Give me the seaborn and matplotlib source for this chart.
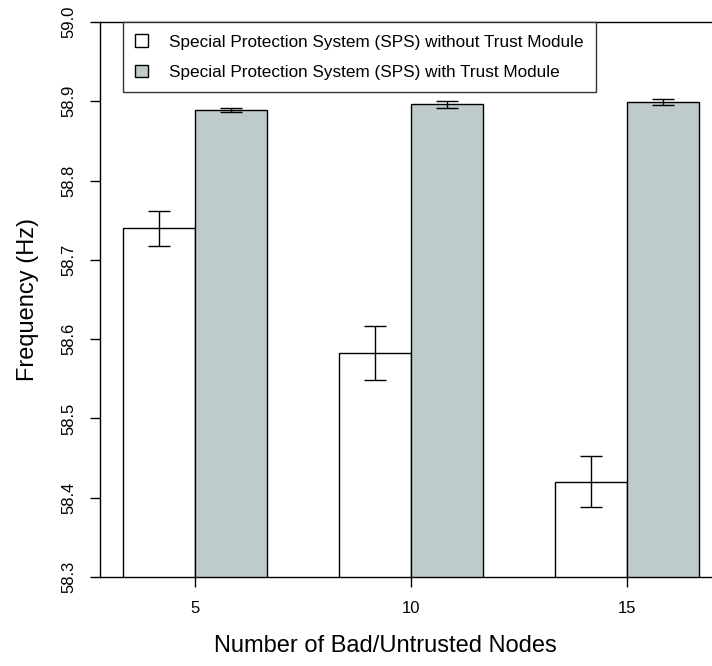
import pandas as pd
import matplotlib.pyplot as plt
import seaborn as sns
from matplotlib.patches import Patch

# values
nodes = ["5", "10", "15"]
series = ["Special Protection System (SPS) without Trust Module",
          "Special Protection System (SPS) with Trust Module"]
freq_without = [58.740, 58.582, 58.420]
err_without = [0.022, 0.034, 0.032]
freq_with = [58.889, 58.896, 58.899]
err_with = [0.003, 0.004, 0.004]
yticks = [58.3, 58.4, 58.5, 58.6, 58.7, 58.8, 58.9, 59.0]
colors = ["white", "#bfcbca"]

df = pd.DataFrame({
    "nodes": nodes * 2,
    "freq": freq_without + freq_with,
    "err": err_without + err_with,
    "system": [series[0]] * 3 + [series[1]] * 3,
})

sns.set_style("ticks")
plt.rcParams["font.family"] = ["Liberation Sans", "DejaVu Sans"]
plt.rcParams["text.color"] = "black"
plt.rcParams["axes.labelcolor"] = "black"
plt.rcParams["xtick.color"] = "black"
plt.rcParams["ytick.color"] = "black"

fig = plt.figure(figsize=(7.12, 6.66), dpi=100)
ax = fig.add_axes([100 / 712, 89 / 666, 612 / 712, 555 / 666])

sns.barplot(data=df, x="nodes", y="freq", hue="system", order=nodes,
            hue_order=series, palette=colors, saturation=1, width=0.667,
            edgecolor="black", linewidth=1, errorbar=None, legend=False, ax=ax)

# error bars centred on each bar
for cont, s in zip(ax.containers, series):
    sub = df[df.system == s].set_index("nodes").loc[nodes]
    xs = [b.get_x() + b.get_width() / 2 for b in cont]
    ax.errorbar(xs, sub["freq"], yerr=sub["err"], fmt="none", ecolor="black",
                elinewidth=1, capsize=8, capthick=1)

ax.set_ylim(58.3, 59.0)
ax.set_xlim(-0.44, 2.394)
ax.set_yticks(yticks)
ax.set_yticklabels([f"{t:.1f}" for t in yticks], rotation=90, va="center")

for side in ["left", "bottom", "top"]:
    ax.spines[side].set_linewidth(1)
    ax.spines[side].set_color("black")
ax.spines["right"].set_visible(False)
ax.tick_params(axis="both", length=7, width=1, direction="out", labelsize=12,
               pad=10, color="black", labelcolor="black")

ax.set_xlabel("Number of Bad/Untrusted Nodes", fontsize=17, labelpad=14)
ax.xaxis.label.set_x(285 / 612)
ax.set_ylabel("Frequency (Hz)", fontsize=17, labelpad=16)

handles = [Patch(facecolor=c, edgecolor="black", linewidth=1) for c in colors]
leg = ax.legend(handles, series, loc="upper left", bbox_to_anchor=(23 / 612, 1.0),
                borderaxespad=0, fontsize=12.3, frameon=True, fancybox=False,
                framealpha=1, edgecolor="#333333", handlelength=0.75,
                handleheight=0.75, handletextpad=1.2, labelspacing=0.9,
                borderpad=0.72)
leg.get_frame().set_linewidth(1)

fig.savefig("out.png", dpi=100)
